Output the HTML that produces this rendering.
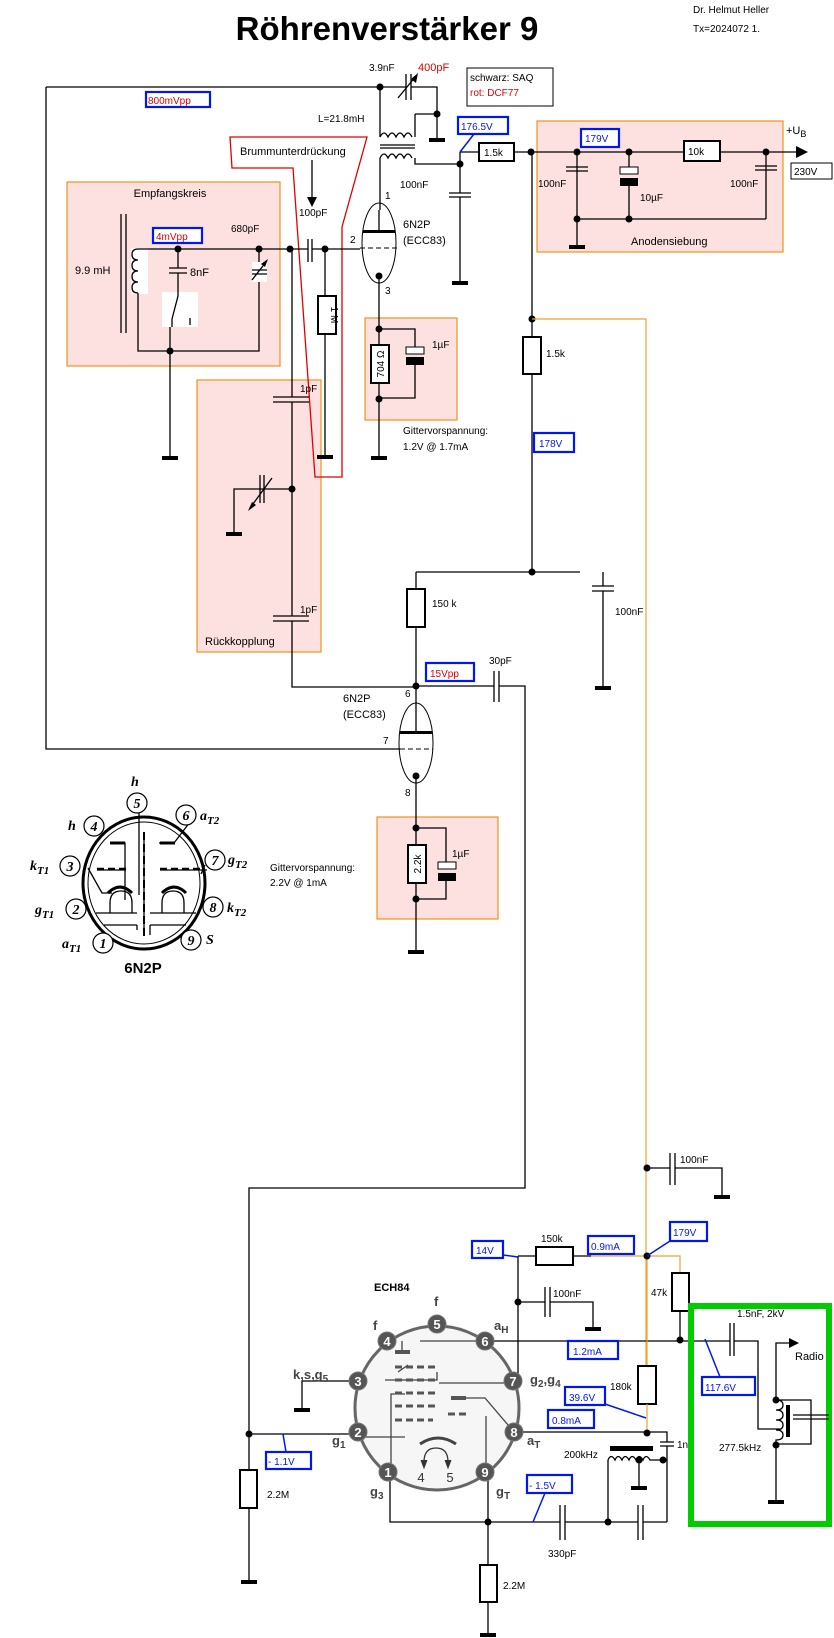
<!DOCTYPE html>
<html><head><meta charset="utf-8"><style>
html,body{margin:0;padding:0;background:#fff;}
svg{display:block;}
text{font-family:"Liberation Sans",sans-serif;font-size:11px;fill:#000;}
.b{fill:none;stroke:#000;stroke-width:1.3;}
.o{fill:none;stroke:#f0a030;stroke-width:1.2;}
.bl{fill:none;stroke:#0018f0;stroke-width:1.5;}
.bx{fill:#fff;stroke:#0018f0;stroke-width:2.2;}
.pb{fill:#fde0e0;stroke:#f39a2a;stroke-width:1.3;}
.r{fill:#fff;stroke:#000;stroke-width:2;}
.bt{fill:#0018f0;}
.rt{fill:#e00000;}
.pin{fill:#555;stroke:#777;stroke-width:1;}
.pt{fill:#fff;font-weight:bold;font-size:13px;text-anchor:middle;}
.bp{fill:#fff;stroke:#000;stroke-width:1.3;}
.it{font-family:"Liberation Serif",serif;font-style:italic;font-size:14px;font-weight:bold;}
</style></head><body>
<svg width="834" height="1638" viewBox="0 0 834 1638" xmlns="http://www.w3.org/2000/svg">
<defs>
<g id="gnd"><rect x="-8" y="-2" width="16" height="4" fill="#000"/></g>
<g id="nd"><circle r="3.5" fill="#000"/></g>
</defs>

<!-- Title -->
<text x="387" y="40" text-anchor="middle" style="font-size:33px;font-weight:bold">Röhrenverstärker 9</text>
<text x="693" y="13" style="font-size:10px">Dr. Helmut Heller</text>
<text x="693" y="32" style="font-size:10px">Tx=2024072 1.</text>

<!-- Boxes background -->
<rect class="pb" x="537" y="121" width="246" height="131"/>
<rect class="pb" x="67" y="182" width="213" height="184"/>
<rect class="pb" x="197" y="380" width="124" height="272"/>
<rect class="pb" x="365" y="318" width="92" height="102"/>
<rect class="pb" x="377" y="817" width="121" height="102"/>

<!-- red Brumm polygon -->
<polygon points="230,137 367,137 342,227 342,477 315,477 293,168 232,168" fill="none" stroke="#e00000" stroke-width="1.3"/>
<text x="240" y="155" style="font-size:11px">Brummunterdrückung</text>
<path class="b" d="M312 160V200"/><polygon points="307,197 317,197 312,207" fill="#000"/>

<!-- top wire & tuning cap -->
<path class="b" d="M46 87H406M411 87H437V140M46 87V749H400"/>
<path class="b" d="M406 74V100M411 74V100" stroke-width="1.5"/>
<path class="b" d="M398 98L416 76"/><polygon points="418,73 411,79 416,83" fill="#000"/>
<use href="#nd" x="380" y="87"/><use href="#nd" x="437" y="114"/>
<use href="#gnd" x="437" y="140"/>
<text x="369" y="71" style="font-size:10px">3.9nF</text>
<text x="418" y="71" class="rt" style="font-size:11px">400pF</text>
<rect x="146" y="92" width="64" height="15" class="bx"/>
<text x="148" y="104" class="rt" style="font-size:10px">800mVpp</text>
<rect x="467" y="68" width="86" height="38" fill="#fff" stroke="#000" stroke-width="1"/>
<text x="470" y="81" style="font-size:10px">schwarz: SAQ</text>
<text x="470" y="96" class="rt" style="font-size:10px">rot: DCF77</text>

<!-- transformer -->
<path class="b" d="M380 87V137M415 114H437M415 114V137"/>
<path class="b" d="M380 137q4-8 8 0q4-8 8 0q4-8 8 0q4-8 8 0"/>
<path class="b" d="M380 145H415M380 148H415" stroke-width="1.2"/>
<path class="b" d="M380 158q4-8 8 0q4-8 8 0q4-8 8 0q4-8 8 0"/>
<path class="b" d="M380 158V210M415 158V164H460"/>
<text x="318" y="122" style="font-size:10px">L=21.8mH</text>

<!-- B+ line -->
<path class="b" d="M460 152H479M514 152H800M460 152V193M460 197V283"/>
<polygon points="796,146 808,152 796,158" fill="#000"/>
<use href="#nd" x="460" y="164"/><use href="#nd" x="531" y="152"/>
<path class="b" d="M449 193H471M449 197H471" stroke-width="1.5"/>
<use href="#gnd" x="460" y="283"/>
<text x="400" y="188" style="font-size:10px">100nF</text>
<rect x="479" y="143" width="35" height="18" class="r"/>
<text x="484" y="156" style="font-size:10px">1.5k</text>
<rect x="458" y="117" width="50" height="17" class="bx"/>
<text x="461" y="130" class="bt" style="font-size:10px">176.5V</text>
<path class="bl" d="M474 134L460 152"/>

<!-- Anodensiebung -->
<rect x="581" y="129" width="38" height="18" class="bx"/>
<text x="585" y="142" class="bt" style="font-size:10px">179V</text>
<rect x="684" y="141" width="36" height="20" class="r"/>
<text x="688" y="155" style="font-size:10px">10k</text>
<path class="b" d="M577 152V247M566 167H588M566 171H588M629 152V167M629 185V219M766 152V219M755 166H777M755 170H777M577 219H766"/>
<rect x="620" y="167" width="18" height="7" fill="#fff" stroke="#000"/>
<rect x="620" y="178" width="18" height="8" fill="#000"/>
<use href="#nd" x="577" y="152"/><use href="#nd" x="629" y="152"/><use href="#nd" x="766" y="152"/>
<use href="#nd" x="577" y="219"/><use href="#nd" x="629" y="219"/>
<use href="#gnd" x="577" y="247"/>
<text x="538" y="187" style="font-size:10px">100nF</text>
<text x="640" y="201" style="font-size:10px">10µF</text>
<text x="730" y="187" style="font-size:10px">100nF</text>
<text x="631" y="245" style="font-size:11px">Anodensiebung</text>
<text x="786" y="134" style="font-size:11px">+U<tspan dy="3" style="font-size:9px">B</tspan></text>
<rect x="791" y="163" width="41" height="16" fill="#fff" stroke="#000" stroke-width="1"/>
<text x="794" y="175" style="font-size:10px">230V</text>

<!-- right rail -->
<path class="b" d="M532 152V337M532 374V572"/>
<use href="#nd" x="532" y="319"/>
<path class="o" d="M532 319H646V1365"/>
<rect x="523" y="337" width="18" height="37" class="r"/>
<text x="546" y="357" style="font-size:10px">1.5k</text>
<rect x="534" y="433" width="40" height="19" class="bx"/>
<text x="539" y="447" class="bt" style="font-size:10px">178V</text>

<!-- Empfangskreis -->
<text x="170" y="197" text-anchor="middle" style="font-size:11px">Empfangskreis</text>
<path class="b" d="M121 214V333M126 214V333" stroke-width="1.6"/>
<rect x="131" y="248" width="17" height="46" fill="#fff"/>
<path class="b" d="M138 249q-6 0-6 5.5t6 5.5q-6 0-6 5.5t6 5.5q-6 0-6 5.5t6 5.5q-6 0-6 5.5t6 5.5M138 249H308M312 249H360M138 293V351H259V249"/>
<text x="75" y="274" style="font-size:11px">9.9 mH</text>
<path class="b" d="M178 249V268M169 268H187M169 273H187M178 273V292"/>
<text x="190" y="276" style="font-size:11px">8nF</text>
<rect x="162" y="292" width="36" height="35" fill="#fff"/>
<path class="b" d="M178 292V296L172 319M172 319V327M190 318V325M170 327V351"/>
<path class="b" d="M170 351V458"/><use href="#gnd" x="170" y="458"/>
<use href="#nd" x="178" y="249"/><use href="#nd" x="259" y="249"/><use href="#nd" x="170" y="351"/>
<use href="#nd" x="290" y="249"/><use href="#nd" x="325" y="249"/>
<rect x="252" y="262" width="15" height="20" fill="#fff"/>
<path class="b" d="M252 270H267M252 274H267M252 280L266 262"/><polygon points="268,259 261,264 265,267" fill="#000"/>
<rect x="153" y="228" width="49" height="15" class="bx"/>
<text x="156" y="240" class="rt" style="font-size:10px">4mVpp</text>
<text x="231" y="232" style="font-size:10px">680pF</text>
<path class="b" d="M308 239V262M312 239V262" stroke-width="1.3"/>
<text x="299" y="216" style="font-size:10px">100pF</text>
<path class="b" d="M325 249V296M325 334V457"/><use href="#gnd" x="325" y="457"/>
<rect x="318" y="296" width="18" height="38" class="r"/>
<text x="331" y="315" transform="rotate(90 331 315)" text-anchor="middle" style="font-size:10px">1 M</text>

<!-- Tube 1 -->
<ellipse cx="379" cy="243" rx="17" ry="40" fill="none" stroke="#000" stroke-width="1"/>
<path class="b" d="M379 210V231"/><rect x="363" y="230" width="32" height="3" fill="#000"/>
<path d="M360 248H398" stroke="#000" stroke-dasharray="5,3"/>
<use href="#nd" x="379" y="276"/>
<text x="385" y="199" style="font-size:10px">1</text>
<text x="350" y="243" style="font-size:10px">2</text>
<text x="385" y="294" style="font-size:10px">3</text>
<text x="403" y="228" style="font-size:11px">6N2P</text>
<text x="403" y="244" style="font-size:11px">(ECC83)</text>
<path class="b" d="M379 276V345M379 383V458M379 329H415V347M415 365V398H379"/>
<use href="#gnd" x="379" y="458"/>
<use href="#nd" x="379" y="329"/><use href="#nd" x="379" y="399"/>
<rect x="371" y="345" width="18" height="38" class="r"/>
<text x="384" y="364" transform="rotate(-90 384 364)" text-anchor="middle" style="font-size:10px">704 Ω</text>
<rect x="406" y="347" width="18" height="7" fill="#fff" stroke="#000"/>
<rect x="406" y="357" width="18" height="8" fill="#000"/>
<text x="432" y="348" style="font-size:10px">1µF</text>
<text x="403" y="434" style="font-size:10px">Gittervorspannung:</text>
<text x="403" y="450" style="font-size:10px">1.2V @ 1.7mA</text>

<!-- Rückkopplung -->
<path class="b" d="M292 249V397M292 402V616M292 621V687H416"/>
<path class="b" d="M273 397H309M273 402H309M273 616H309M273 621H309" stroke-width="1.5"/>
<text x="300" y="392" style="font-size:10px">1pF</text>
<text x="300" y="613" style="font-size:10px">1pF</text>
<use href="#nd" x="292" y="489"/>
<path class="b" d="M292 489H234V534M260 475V503M264 475V503M250 508L272 478"/>
<polygon points="248,511 256,505 252,502" fill="#000"/>
<use href="#gnd" x="234" y="534"/>
<text x="205" y="645" style="font-size:11px">Rückkopplung</text>

<!-- middle: 150k etc -->
<path class="b" d="M416 572H580M416 572V589M416 627V703M603 572V586M603 591V688"/>
<path class="b" d="M592 586H614M592 591H614" stroke-width="1.5"/>
<use href="#gnd" x="603" y="688"/>
<use href="#nd" x="532" y="572"/>
<text x="615" y="615" style="font-size:10px">100nF</text>
<rect x="407" y="589" width="18" height="38" class="r"/>
<text x="432" y="607" style="font-size:10px">150 k</text>
<use href="#nd" x="416" y="686"/>
<rect x="426" y="663" width="48" height="18" class="bx"/>
<text x="430" y="677" class="rt" style="font-size:10px">15Vpp</text>
<path class="b" d="M416 686H494M499 686H525V1188H249V1470M249 1508V1582"/>
<path class="b" d="M494 671V702M499 671V702" stroke-width="1.3"/>
<text x="489" y="664" style="font-size:10px">30pF</text>

<!-- Tube 2 -->
<ellipse cx="416" cy="743" rx="17" ry="40" fill="none" stroke="#000" stroke-width="1"/>
<path class="b" d="M416 703V732"/><rect x="400" y="731" width="32" height="3" fill="#000"/>
<path d="M400 749H433" stroke="#000" stroke-dasharray="5,3"/>
<use href="#nd" x="416" y="776"/>
<text x="405" y="697" style="font-size:10px">6</text>
<text x="383" y="744" style="font-size:10px">7</text>
<text x="405" y="796" style="font-size:10px">8</text>
<text x="343" y="702" style="font-size:11px">6N2P</text>
<text x="343" y="718" style="font-size:11px">(ECC83)</text>
<path class="b" d="M416 776V845M416 883V952M416 828H446V862M446 881V899H416"/>
<use href="#gnd" x="416" y="952"/>
<use href="#nd" x="416" y="828"/><use href="#nd" x="416" y="899"/>
<rect x="408" y="845" width="18" height="38" class="r"/>
<text x="421" y="864" transform="rotate(-90 421 864)" text-anchor="middle" style="font-size:10px">2.2k</text>
<rect x="438" y="862" width="18" height="7" fill="#fff" stroke="#000"/>
<rect x="438" y="873" width="18" height="8" fill="#000"/>
<text x="452" y="857" style="font-size:10px">1µF</text>
<text x="270" y="871" style="font-size:10px">Gittervorspannung:</text>
<text x="270" y="886" style="font-size:10px">2.2V @ 1mA</text>

<!-- 6N2P base -->
<ellipse cx="144" cy="883" rx="61" ry="66" fill="none" stroke="#000" stroke-width="3"/>
<ellipse cx="144" cy="883" rx="56" ry="61" fill="none" stroke="#000" stroke-width="1"/>
<path class="b" d="M110 843H125V900M139 813V895M144 835V930M159 843H174L190 822M97 870H126M160 870H207M88 868L102 893H112M205 865L201 874"/>
<path d="M110 843H125M160 843H175" stroke="#000" stroke-width="3"/>
<path d="M97 869H128M160 869H200" stroke="#000" stroke-width="2.5" stroke-dasharray="7,4"/>
<path d="M144 832V940" stroke="#000" stroke-width="2" stroke-dasharray="8,4"/>
<path d="M108 893q12-12 24 0M162 893q12-12 24 0" fill="none" stroke="#000" stroke-width="3"/>
<path class="b" d="M110 913V903q0-12 11-12t11 12V913M162 913V903q0-12 11-12t11 12V913M96 913H137M150 913H196M104 925H137M150 925H186M137 925V930M150 925V935"/>
<g fill="#fff" stroke="#000" stroke-width="1.2">
<circle cx="137" cy="803" r="10"/><circle cx="94" cy="826" r="10"/><circle cx="186" cy="815" r="10"/>
<circle cx="70" cy="866" r="10"/><circle cx="215" cy="860" r="10"/><circle cx="76" cy="909" r="10"/>
<circle cx="213" cy="907" r="10"/><circle cx="103" cy="943" r="10"/><circle cx="191" cy="940" r="10"/>
</g>
<g class="it" text-anchor="middle">
<text x="137" y="808" class="it">5</text><text x="94" y="831" class="it">4</text><text x="186" y="820" class="it">6</text>
<text x="70" y="871" class="it">3</text><text x="215" y="865" class="it">7</text><text x="76" y="914" class="it">2</text>
<text x="213" y="912" class="it">8</text><text x="103" y="948" class="it">1</text><text x="191" y="945" class="it">9</text>
</g>
<text x="131" y="786" class="it">h</text>
<text x="68" y="830" class="it">h</text>
<text x="200" y="820" class="it">a<tspan dy="4" style="font-size:11px">T2</tspan></text>
<text x="30" y="870" class="it">k<tspan dy="4" style="font-size:11px">T1</tspan></text>
<text x="228" y="864" class="it">g<tspan dy="4" style="font-size:11px">T2</tspan></text>
<text x="35" y="914" class="it">g<tspan dy="4" style="font-size:11px">T1</tspan></text>
<text x="227" y="912" class="it">k<tspan dy="4" style="font-size:11px">T2</tspan></text>
<text x="62" y="948" class="it">a<tspan dy="4" style="font-size:11px">T1</tspan></text>
<text x="206" y="944" class="it">S</text>
<text x="143" y="973" text-anchor="middle" style="font-size:15px;font-weight:bold">6N2P</text>

<!-- lower section -->
<use href="#nd" x="647" y="1168"/>
<path class="b" d="M647 1168H670M675 1168H722V1197M670 1153V1185M675 1153V1185"/>
<use href="#gnd" x="722" y="1197"/>
<text x="680" y="1163" style="font-size:10px">100nF</text>
<path class="b" d="M518 1256H536M573 1256H591M518 1256V1381"/>
<path class="o" d="M591 1256H680V1273M647 1256V1340"/>
<rect x="536" y="1247" width="37" height="18" class="r"/>
<text x="541" y="1242" style="font-size:10px">150k</text>
<use href="#nd" x="647" y="1256"/>
<rect x="472" y="1241" width="31" height="17" class="bx"/><text x="476" y="1254" class="bt" style="font-size:10px">14V</text>
<path class="bl" d="M503 1255L518 1257"/>
<rect x="588" y="1236" width="46" height="18" class="bx"/><text x="591" y="1250" class="bt" style="font-size:10px">0.9mA</text>
<rect x="670" y="1222" width="37" height="19" class="bx"/><text x="673" y="1236" class="bt" style="font-size:10px">179V</text>
<path class="bl" d="M670 1241L647 1256"/>
<use href="#nd" x="518" y="1302"/>
<path class="b" d="M518 1302H545M550 1302H593V1329M545 1287V1317M550 1287V1317"/>
<use href="#gnd" x="593" y="1329"/>
<text x="553" y="1297" style="font-size:10px">100nF</text>
<rect x="672" y="1273" width="17" height="38" class="r"/>
<text x="651" y="1296" style="font-size:10px">47k</text>
<path class="b" d="M680 1311V1340M485 1341H730M734 1341H758V1429H780"/>
<path class="b" d="M730 1323V1356M734 1323V1356" stroke-width="1.5"/>
<use href="#nd" x="680" y="1340"/>
<rect x="568" y="1341" width="50" height="18" class="bx"/><text x="573" y="1355" class="bt" style="font-size:10px">1.2mA</text>

<path class="o" d="M647 1340V1366"/>
<rect x="638" y="1366" width="18" height="38" class="r"/>
<text x="610" y="1390" style="font-size:10px">180k</text>
<path class="o" d="M647 1404V1434"/>
<rect x="565" y="1387" width="40" height="18" class="bx"/><text x="569" y="1401" class="bt" style="font-size:10px">39.6V</text>
<path class="bl" d="M605 1404L646 1418"/>
<rect x="548" y="1410" width="46" height="18" class="bx"/><text x="552" y="1424" class="bt" style="font-size:10px">0.8mA</text>
<path class="b" d="M514 1432H667V1442M667 1446V1460M660 1442H674M660 1446H674"/>
<use href="#nd" x="647" y="1433"/>
<text x="677" y="1448" style="font-size:10px">1nF</text>
<rect x="610" y="1446" width="43" height="5" fill="#000"/>
<path class="b" d="M608 1460q3-7 7 0q3-7 7 0q3-7 7 0q3-7 7 0q3-7 7 0q3-7 7 0H667M608 1460V1522M639 1460V1488M667 1460V1522"/>
<use href="#gnd" x="639" y="1488"/>
<use href="#nd" x="639" y="1460"/><use href="#nd" x="663" y="1460"/>
<text x="564" y="1458" style="font-size:10px">200kHz</text>
<path class="b" d="M390 1472V1522H560M565 1522H638M643 1522H667M488 1472V1565M488 1602V1636M560 1505V1540M565 1505V1540M638 1505V1540M643 1505V1540"/>
<use href="#nd" x="488" y="1522"/><use href="#nd" x="608" y="1522"/>
<use href="#gnd" x="488" y="1635"/>
<text x="548" y="1557" style="font-size:10px">330pF</text>
<rect x="480" y="1565" width="17" height="37" class="r"/>
<text x="503" y="1589" style="font-size:10px">2.2M</text>
<rect x="527" y="1475" width="45" height="18" class="bx"/><text x="529" y="1489" class="bt" style="font-size:10px">- 1.5V</text>
<path class="bl" d="M545 1493L533 1522"/>

<use href="#nd" x="249" y="1434"/>
<path class="b" d="M249 1434H358"/>
<rect x="240" y="1470" width="17" height="38" class="r"/>
<text x="267" y="1498" style="font-size:10px">2.2M</text>
<use href="#gnd" x="249" y="1582"/>
<rect x="266" y="1452" width="45" height="17" class="bx"/><text x="268" y="1465" class="bt" style="font-size:10px">- 1.1V</text>
<path class="bl" d="M283 1434L286 1452"/>
<path class="b" d="M358 1381H302V1410"/><use href="#gnd" x="302" y="1410"/>

<!-- ECH84 -->
<text x="374" y="1291" style="font-size:11px;font-weight:bold">ECH84</text>
<circle cx="437" cy="1408" r="84" fill="#f6f6f6" stroke="none"/>
<circle cx="437" cy="1408" r="82" fill="none" stroke="#666" stroke-width="3"/>
<path d="M420 1341H485M402 1341V1350M398 1372L408 1365M385 1380H437V1372M391 1477V1394H405M405 1437H359" fill="none" stroke="#444" stroke-width="1.3"/>
<rect x="395" y="1350" width="15" height="4" fill="#555"/>
<path d="M395 1367H437M395 1380H437M395 1393H437M395 1406H437M395 1420H433M448 1414H468" stroke="#555" stroke-width="3" stroke-dasharray="7,4"/>
<path d="M439 1383H513M451 1398H485L514 1432M486 1416V1472" fill="none" stroke="#444" stroke-width="1.3"/>
<rect x="451" y="1396" width="15" height="4" fill="#555"/>
<path d="M420 1444q18-12 36 0" fill="none" stroke="#444" stroke-width="3"/>
<path d="M424 1462q0-14 12-14t12 14" fill="none" stroke="#333" stroke-width="1.3"/>
<path d="M421 1460L424 1468L427 1460M445 1460L448 1468L451 1460" fill="#333" stroke="#333"/>
<text x="421" y="1482" text-anchor="middle" style="font-size:13px;fill:#333">4</text>
<text x="450" y="1482" text-anchor="middle" style="font-size:13px;fill:#333">5</text>
<g>
<circle cx="437" cy="1324" r="9" class="pin"/><circle cx="387" cy="1341" r="9" class="pin"/><circle cx="485" cy="1341" r="9" class="pin"/>
<circle cx="358" cy="1381" r="9" class="pin"/><circle cx="513" cy="1381" r="9" class="pin"/><circle cx="358" cy="1432" r="9" class="pin"/>
<circle cx="514" cy="1432" r="9" class="pin"/><circle cx="388" cy="1472" r="9" class="pin"/><circle cx="485" cy="1472" r="9" class="pin"/>
</g>
<text x="437" y="1329" class="pt">5</text><text x="387" y="1346" class="pt">4</text><text x="485" y="1346" class="pt">6</text>
<text x="358" y="1386" class="pt">3</text><text x="513" y="1386" class="pt">7</text><text x="358" y="1437" class="pt">2</text>
<text x="514" y="1437" class="pt">8</text><text x="388" y="1477" class="pt">1</text><text x="485" y="1477" class="pt">9</text>
<g style="font-size:13px;font-weight:bold" fill="#444">
<text x="434" y="1306" style="font-size:13px;font-weight:bold;fill:#444">f</text>
<text x="373" y="1330" style="font-size:13px;font-weight:bold;fill:#444">f</text>
<text x="494" y="1330" style="font-size:13px;font-weight:bold;fill:#444">a<tspan dy="3" style="font-size:10px">H</tspan></text>
<text x="293" y="1379" style="font-size:13px;font-weight:bold;fill:#444">k,s,g<tspan dy="3" style="font-size:10px">5</tspan></text>
<text x="530" y="1384" style="font-size:13px;font-weight:bold;fill:#444">g<tspan dy="3" style="font-size:10px">2</tspan><tspan dy="-3">,g</tspan><tspan dy="3" style="font-size:10px">4</tspan></text>
<text x="332" y="1445" style="font-size:13px;font-weight:bold;fill:#444">g<tspan dy="3" style="font-size:10px">1</tspan></text>
<text x="527" y="1445" style="font-size:13px;font-weight:bold;fill:#444">a<tspan dy="3" style="font-size:10px">T</tspan></text>
<text x="370" y="1496" style="font-size:13px;font-weight:bold;fill:#444">g<tspan dy="3" style="font-size:10px">3</tspan></text>
<text x="496" y="1496" style="font-size:13px;font-weight:bold;fill:#444">g<tspan dy="3" style="font-size:10px">T</tspan></text>
</g>

<!-- green box -->
<rect x="691" y="1306" width="138" height="218" fill="none" stroke="#00cc00" stroke-width="6"/>
<text x="737" y="1317" style="font-size:10px">1.5nF, 2kV</text>
<rect x="702" y="1377" width="53" height="18" class="bx"/><text x="705" y="1391" class="bt" style="font-size:10px">117.6V</text>
<path class="bl" d="M705 1339L720 1377"/>
<path class="b" d="M776 1400V1343H790M776 1400q7 0 7 5t-7 5q7 0 7 5t-7 5q7 0 7 5t-7 5q7 0 7 5t-7 5V1502M776 1400H811V1444H776M793 1415H829M793 1419H829"/>
<polygon points="789,1338 799,1343 789,1348" fill="#000"/>
<rect x="786" y="1405" width="4" height="32" fill="#000"/>
<use href="#nd" x="776" y="1400"/><use href="#nd" x="776" y="1445"/>
<use href="#gnd" x="776" y="1502"/>
<text x="795" y="1360" style="font-size:11px">Radio</text>
<text x="719" y="1451" style="font-size:10px">277.5kHz</text>
</svg>
</body></html>
